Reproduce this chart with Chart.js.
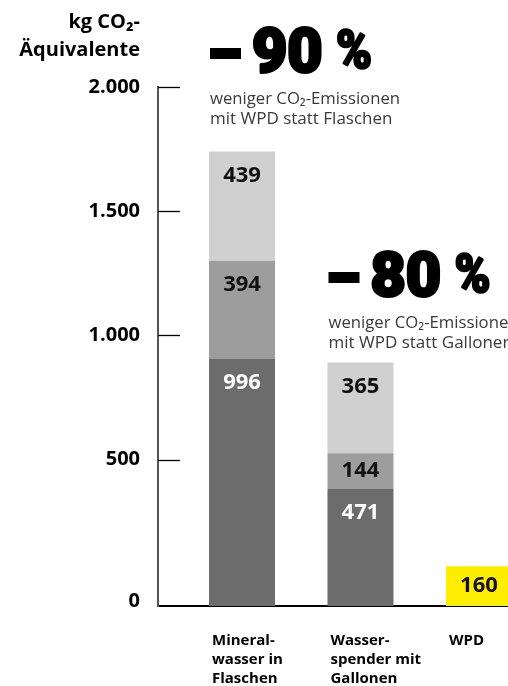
<!DOCTYPE html>
<html><head><meta charset="utf-8">
<script src="https://cdn.jsdelivr.net/npm/chart.js@4.4.1/dist/chart.umd.min.js"></script>
<style>html,body{margin:0;padding:0;background:#fff;overflow:hidden}canvas{display:block}</style>
</head><body>
<canvas id="c" width="508" height="686"></canvas>
<script>
// ---- data ----
const categories = [["Mineral-", "wasser in", "Flaschen"], ["Wasser-", "spender mit", "Gallonen"], ["WPD"]];
const segmentBase = [996, 471, null];
const segmentMid = [394, 144, null];
const segmentTop = [439, 365, null];
const wpdValues = [null, null, 160];
const yTicks = [0, 500, 1000, 1500, 2000];
const axisTitle = ["kg CO₂-", "Äquivalente"];
const savingsPct = ["90", "80"];
const savingsText = [["weniger CO₂-Emissionen", "mit WPD statt Flaschen"], ["weniger CO₂-Emissionen", "mit WPD statt Gallonen"]];

const toPoints = arr => arr.map((v, i) => ({x: i, y: v})).filter(p => p.y !== null);
const fmt = v => String(v).replace(/\B(?=(\d{3})+(?!\d))/g, '.');
const FONT = '"Open Sans", "Noto Sans", sans-serif';
const HEAVY = 'Roboto, "Open Sans", sans-serif';
// annotation baselines, as pixel offsets from the top of the plot area
const annotationBaseline = [-14, 210];

const valueLabels = {
  id: 'valueLabels',
  afterDatasetsDraw(chart) {
    const ctx = chart.ctx;
    ctx.save();
    ctx.font = '700 22px ' + FONT;
    ctx.textAlign = 'center';
    ctx.textBaseline = 'middle';
    chart.data.datasets.forEach((ds, di) => {
      const meta = chart.getDatasetMeta(di);
      meta.data.forEach((bar, j) => {
        const v = ds.data[j].y;
        const top = Math.min(bar.y, bar.base), bottom = Math.max(bar.y, bar.base);
        const cy = Math.min(top + 24, (top + bottom) / 2);
        ctx.fillStyle = ds.labelColor;
        ctx.fillText(String(v), bar.x, cy);
      });
    });
    ctx.restore();
  }
};

const extras = {
  id: 'extras',
  afterDraw(chart) {
    const ctx = chart.ctx;
    const area = chart.chartArea;
    ctx.save();
    // inward tick marks
    const ys = chart.scales.y;
    ctx.strokeStyle = '#000';
    ctx.lineWidth = 1.3;
    ys.ticks.forEach(t => {
      if (t.value <= 0) return;
      const py = Math.round(ys.getPixelForValue(t.value)) + 0.5;
      ctx.beginPath(); ctx.moveTo(area.left, py); ctx.lineTo(area.left + 22, py); ctx.stroke();
    });
    // axis title
    ctx.fillStyle = '#000';
    ctx.font = '700 20px ' + FONT;
    ctx.textAlign = 'right';
    ctx.textBaseline = 'alphabetic';
    ctx.fillText(axisTitle[0], area.left - 18, 28);
    ctx.fillText(axisTitle[1], area.left - 18, 56);
    // savings annotations
    const topMeta = chart.getDatasetMeta(2);
    savingsPct.forEach((pct, i) => {
      const bar = topMeta.data[i];
      const L = bar.x - bar.width / 2;
      const base = area.top + annotationBaseline[i];
      ctx.textAlign = 'left';
      ctx.fillStyle = '#000';
      ctx.strokeStyle = '#000';
      ctx.lineJoin = 'round';
      ctx.fillRect(L + 1, base - 25, 31, 11);
      ctx.lineWidth = 3;
      ctx.font = '900 61px ' + HEAVY;
      ctx.fillText(pct, L + 43, base - 1);
      ctx.strokeText(pct, L + 43, base - 1);
      ctx.lineWidth = 2.5;
      ctx.font = '900 54px ' + HEAVY;
      ctx.fillText('%', L + 127, base - 5, 36);
      ctx.strokeText('%', L + 127, base - 5, 36);
      ctx.fillStyle = '#3a3a3a';
      ctx.font = '400 17px ' + FONT;
      ctx.fillText(savingsText[i][0], L + 1, base + 31, 190);
      ctx.fillText(savingsText[i][1], L + 1, base + 51, 190);
    });
    ctx.restore();
  }
};

new Chart(document.getElementById('c'), {
  type: 'bar',
  data: {
    datasets: [
      {label: 'Anteil 1', data: toPoints(segmentBase), backgroundColor: '#6c6c6c', labelColor: '#ffffff', yAxisID: 'yb'},
      {label: 'Anteil 2', data: toPoints(segmentMid), backgroundColor: '#9d9d9d', labelColor: '#111111', yAxisID: 'yb'},
      {label: 'Anteil 3', data: toPoints(segmentTop), backgroundColor: '#d0d0d0', labelColor: '#111111', yAxisID: 'yb'},
      {label: 'WPD', data: toPoints(wpdValues), backgroundColor: '#ffed00', labelColor: '#111111', yAxisID: 'yb'}
    ]
  },
  options: {
    responsive: false,
    devicePixelRatio: 1,
    animation: false,
    categoryPercentage: 0.557,
    barPercentage: 1,
    layout: {padding: {top: 87, left: 0, right: 0, bottom: 0}},
    plugins: {legend: {display: false}, tooltip: {enabled: false}, title: {display: false}},
    scales: {
      x: {
        type: 'linear', min: -0.709, max: 2.245, stacked: true, offset: false,
        grid: {display: false, drawTicks: false},
        border: {display: true, color: '#000', width: 2},
        afterBuildTicks: s => { s.ticks = categories.map((_, i) => ({value: i})); },
        afterFit: s => { s.height = 80; s.paddingLeft = 0; s.paddingRight = 0; },
        ticks: {
          autoSkip: false, maxRotation: 0, minRotation: 0, align: 'start', labelOffset: -30, padding: 25,
          color: '#000', font: {family: FONT, weight: '700', size: 15, lineHeight: 1.27},
          callback: (v, idx) => categories[idx]
        }
      },
      y: {
        type: 'linear', position: 'left', min: -89, max: 2000,
        grid: {display: false, drawTicks: false},
        border: {display: true, color: '#555', width: 2},
        afterBuildTicks: s => { s.ticks = yTicks.map(v => ({value: v === 0 ? -70 : v})); },
        afterFit: s => { s.width = 158; s.paddingTop = 0; s.paddingBottom = 0; },
        ticks: {padding: 18, color: '#000', font: {family: FONT, weight: '700', size: 20}, callback: (v, idx) => fmt(yTicks[idx])}
      },
      yb: {type: 'linear', display: false, stacked: true, min: 0, max: 2089}
    }
  },
  plugins: [valueLabels, extras]
});
</script>
</body></html>
